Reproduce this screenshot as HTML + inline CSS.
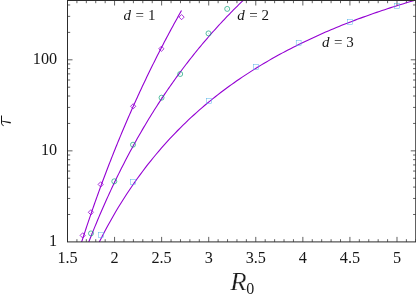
<!DOCTYPE html><html><head><meta charset="utf-8"><style>html,body{margin:0;padding:0;background:#fff}svg{display:block}</style></head><body><svg width="416" height="294" viewBox="0 0 416 294">
<rect width="416" height="294" fill="#fff"/>
<clipPath id="cp"><rect x="67.5" y="0.5" width="348.25" height="241.4"/></clipPath>
<path d="M67.50,241.9 v-5 M67.50,0.5 v5 M76.91,241.9 v-2.7 M76.91,0.5 v2.7 M86.33,241.9 v-2.7 M86.33,0.5 v2.7 M95.74,241.9 v-2.7 M95.74,0.5 v2.7 M105.16,241.9 v-2.7 M105.16,0.5 v2.7 M114.57,241.9 v-5 M114.57,0.5 v5 M123.98,241.9 v-2.7 M123.98,0.5 v2.7 M133.40,241.9 v-2.7 M133.40,0.5 v2.7 M142.81,241.9 v-2.7 M142.81,0.5 v2.7 M152.23,241.9 v-2.7 M152.23,0.5 v2.7 M161.64,241.9 v-5 M161.64,0.5 v5 M171.05,241.9 v-2.7 M171.05,0.5 v2.7 M180.47,241.9 v-2.7 M180.47,0.5 v2.7 M189.88,241.9 v-2.7 M189.88,0.5 v2.7 M199.30,241.9 v-2.7 M199.30,0.5 v2.7 M208.71,241.9 v-5 M208.71,0.5 v5 M218.12,241.9 v-2.7 M218.12,0.5 v2.7 M227.54,241.9 v-2.7 M227.54,0.5 v2.7 M236.95,241.9 v-2.7 M236.95,0.5 v2.7 M246.37,241.9 v-2.7 M246.37,0.5 v2.7 M255.78,241.9 v-5 M255.78,0.5 v5 M265.19,241.9 v-2.7 M265.19,0.5 v2.7 M274.61,241.9 v-2.7 M274.61,0.5 v2.7 M284.02,241.9 v-2.7 M284.02,0.5 v2.7 M293.44,241.9 v-2.7 M293.44,0.5 v2.7 M302.85,241.9 v-5 M302.85,0.5 v5 M312.26,241.9 v-2.7 M312.26,0.5 v2.7 M321.68,241.9 v-2.7 M321.68,0.5 v2.7 M331.09,241.9 v-2.7 M331.09,0.5 v2.7 M340.51,241.9 v-2.7 M340.51,0.5 v2.7 M349.92,241.9 v-5 M349.92,0.5 v5 M359.33,241.9 v-2.7 M359.33,0.5 v2.7 M368.75,241.9 v-2.7 M368.75,0.5 v2.7 M378.16,241.9 v-2.7 M378.16,0.5 v2.7 M387.58,241.9 v-2.7 M387.58,0.5 v2.7 M396.99,241.9 v-5 M396.99,0.5 v5 M406.40,241.9 v-2.7 M406.40,0.5 v2.7 M415.82,241.9 v-2.7 M415.82,0.5 v2.7 M67.5,214.49 h2.7 M415.75,214.49 h-2.7 M67.5,198.46 h2.7 M415.75,198.46 h-2.7 M67.5,187.08 h2.7 M415.75,187.08 h-2.7 M67.5,178.26 h2.7 M415.75,178.26 h-2.7 M67.5,171.05 h2.7 M415.75,171.05 h-2.7 M67.5,164.95 h2.7 M415.75,164.95 h-2.7 M67.5,159.67 h2.7 M415.75,159.67 h-2.7 M67.5,155.02 h2.7 M415.75,155.02 h-2.7 M67.5,150.85 h5 M415.75,150.85 h-5 M67.5,123.44 h2.7 M415.75,123.44 h-2.7 M67.5,107.41 h2.7 M415.75,107.41 h-2.7 M67.5,96.03 h2.7 M415.75,96.03 h-2.7 M67.5,87.21 h2.7 M415.75,87.21 h-2.7 M67.5,80.00 h2.7 M415.75,80.00 h-2.7 M67.5,73.90 h2.7 M415.75,73.90 h-2.7 M67.5,68.62 h2.7 M415.75,68.62 h-2.7 M67.5,63.97 h2.7 M415.75,63.97 h-2.7 M67.5,59.80 h5 M415.75,59.80 h-5 M67.5,32.39 h2.7 M415.75,32.39 h-2.7 M67.5,16.36 h2.7 M415.75,16.36 h-2.7 M67.5,4.98 h2.7 M415.75,4.98 h-2.7" stroke="#2c2c2c" stroke-width="0.75" fill="none"/>
<g clip-path="url(#cp)" fill="none">
<path d="M80.00,247.11 L80.85,244.44 L81.71,241.78 L82.56,239.13 L83.41,236.51 L84.26,233.90 L85.12,231.30 L85.97,228.73 L86.82,226.16 L87.68,223.62 L88.53,221.09 L89.38,218.57 L90.24,216.07 L91.09,213.59 L91.94,211.11 L92.79,208.66 L93.65,206.22 L94.50,203.79 L95.35,201.38 L96.21,198.98 L97.06,196.59 L97.91,194.22 L98.76,191.86 L99.62,189.52 L100.47,187.18 L101.32,184.86 L102.18,182.56 L103.03,180.27 L103.88,177.98 L104.74,175.72 L105.59,173.46 L106.44,171.22 L107.29,168.99 L108.15,166.77 L109.00,164.56 L109.85,162.36 L110.71,160.18 L111.56,158.01 L112.41,155.85 L113.26,153.70 L114.12,151.56 L114.97,149.43 L115.82,147.31 L116.68,145.21 L117.53,143.11 L118.38,141.03 L119.24,138.96 L120.09,136.89 L120.94,134.84 L121.79,132.80 L122.65,130.76 L123.50,128.74 L124.35,126.73 L125.21,124.73 L126.06,122.73 L126.91,120.75 L127.76,118.78 L128.62,116.81 L129.47,114.86 L130.32,112.91 L131.18,110.97 L132.03,109.05 L132.88,107.13 L133.74,105.22 L134.59,103.32 L135.44,101.43 L136.29,99.54 L137.15,97.67 L138.00,95.81 L138.85,93.95 L139.71,92.10 L140.56,90.26 L141.41,88.43 L142.26,86.60 L143.12,84.79 L143.97,82.98 L144.82,81.18 L145.68,79.39 L146.53,77.61 L147.38,75.83 L148.24,74.06 L149.09,72.30 L149.94,70.55 L150.79,68.81 L151.65,67.07 L152.50,65.34 L153.35,63.62 L154.21,61.90 L155.06,60.19 L155.91,58.49 L156.76,56.80 L157.62,55.11 L158.47,53.43 L159.32,51.76 L160.18,50.09 L161.03,48.44 L161.88,46.78 L162.74,45.14 L163.59,43.50 L164.44,41.87 L165.29,40.24 L166.15,38.62 L167.00,37.01 L167.85,35.41 L168.71,33.81 L169.56,32.21 L170.41,30.63 L171.26,29.05 L172.12,27.47 L172.97,25.90 L173.82,24.34 L174.68,22.79 L175.53,21.24 L176.38,19.69 L177.24,18.15 L178.09,16.62 L178.94,15.10 L179.79,13.58 L180.65,12.06 L181.50,10.55" stroke="#9400D3" stroke-width="1.1"/>
<path d="M87.00,246.60 L88.32,243.17 L89.64,239.79 L90.96,236.44 L92.28,233.13 L93.60,229.86 L94.92,226.62 L96.24,223.42 L97.55,220.26 L98.87,217.12 L100.19,214.03 L101.51,210.96 L102.83,207.93 L104.15,204.93 L105.47,201.96 L106.79,199.02 L108.11,196.11 L109.43,193.23 L110.75,190.38 L112.07,187.56 L113.39,184.77 L114.71,182.00 L116.03,179.26 L117.34,176.55 L118.66,173.87 L119.98,171.21 L121.30,168.58 L122.62,165.97 L123.94,163.39 L125.26,160.83 L126.58,158.30 L127.90,155.79 L129.22,153.30 L130.54,150.84 L131.86,148.40 L133.18,145.98 L134.50,143.58 L135.82,141.21 L137.13,138.85 L138.45,136.52 L139.77,134.21 L141.09,131.92 L142.41,129.65 L143.73,127.40 L145.05,125.17 L146.37,122.96 L147.69,120.77 L149.01,118.59 L150.33,116.44 L151.65,114.30 L152.97,112.18 L154.29,110.08 L155.61,108.00 L156.92,105.94 L158.24,103.89 L159.56,101.86 L160.88,99.85 L162.20,97.85 L163.52,95.87 L164.84,93.90 L166.16,91.96 L167.48,90.02 L168.80,88.11 L170.12,86.20 L171.44,84.32 L172.76,82.45 L174.08,80.59 L175.39,78.75 L176.71,76.92 L178.03,75.11 L179.35,73.31 L180.67,71.52 L181.99,69.75 L183.31,67.99 L184.63,66.25 L185.95,64.52 L187.27,62.80 L188.59,61.09 L189.91,59.40 L191.23,57.72 L192.55,56.06 L193.87,54.40 L195.18,52.76 L196.50,51.13 L197.82,49.51 L199.14,47.91 L200.46,46.32 L201.78,44.73 L203.10,43.16 L204.42,41.60 L205.74,40.06 L207.06,38.52 L208.38,37.00 L209.70,35.48 L211.02,33.98 L212.34,32.48 L213.66,31.00 L214.97,29.53 L216.29,28.07 L217.61,26.62 L218.93,25.18 L220.25,23.75 L221.57,22.33 L222.89,20.92 L224.21,19.51 L225.53,18.12 L226.85,16.74 L228.17,15.37 L229.49,14.01 L230.81,12.65 L232.13,11.31 L233.45,9.97 L234.76,8.65 L236.08,7.33 L237.40,6.02 L238.72,4.72 L240.04,3.43 L241.36,2.15 L242.68,0.88 L244.00,-0.39" stroke="#9400D3" stroke-width="1.1"/>
<path d="M97.00,246.58 L99.69,241.17 L102.38,235.90 L105.07,230.77 L107.76,225.78 L110.45,220.93 L113.13,216.20 L115.82,211.59 L118.51,207.09 L121.20,202.71 L123.89,198.44 L126.58,194.27 L129.27,190.20 L131.96,186.22 L134.65,182.34 L137.34,178.54 L140.03,174.84 L142.71,171.21 L145.40,167.67 L148.09,164.20 L150.78,160.81 L153.47,157.49 L156.16,154.24 L158.85,151.05 L161.54,147.94 L164.23,144.88 L166.92,141.89 L169.61,138.96 L172.29,136.08 L174.98,133.27 L177.67,130.50 L180.36,127.79 L183.05,125.13 L185.74,122.52 L188.43,119.96 L191.12,117.45 L193.81,114.98 L196.50,112.56 L199.18,110.17 L201.87,107.84 L204.56,105.54 L207.25,103.28 L209.94,101.06 L212.63,98.88 L215.32,96.74 L218.01,94.63 L220.70,92.56 L223.39,90.52 L226.08,88.52 L228.76,86.54 L231.45,84.60 L234.14,82.69 L236.83,80.81 L239.52,78.96 L242.21,77.14 L244.90,75.35 L247.59,73.59 L250.28,71.85 L252.97,70.14 L255.66,68.45 L258.34,66.79 L261.03,65.15 L263.72,63.54 L266.41,61.95 L269.10,60.39 L271.79,58.84 L274.48,57.32 L277.17,55.83 L279.86,54.35 L282.55,52.89 L285.24,51.45 L287.92,50.04 L290.61,48.64 L293.30,47.26 L295.99,45.91 L298.68,44.57 L301.37,43.24 L304.06,41.94 L306.75,40.65 L309.44,39.38 L312.13,38.13 L314.82,36.89 L317.50,35.67 L320.19,34.47 L322.88,33.28 L325.57,32.10 L328.26,30.94 L330.95,29.80 L333.64,28.67 L336.33,27.55 L339.02,26.45 L341.71,25.36 L344.39,24.29 L347.08,23.23 L349.77,22.18 L352.46,21.15 L355.15,20.12 L357.84,19.11 L360.53,18.12 L363.22,17.13 L365.91,16.16 L368.60,15.19 L371.29,14.24 L373.97,13.30 L376.66,12.37 L379.35,11.46 L382.04,10.55 L384.73,9.65 L387.42,8.77 L390.11,7.89 L392.80,7.02 L395.49,6.17 L398.18,5.32 L400.87,4.49 L403.55,3.66 L406.24,2.84 L408.93,2.03 L411.62,1.23 L414.31,0.44 L417.00,-0.34" stroke="#9400D3" stroke-width="1.1"/>
</g>
<path d="M80.10000000000001,235.4 L82.7,232.8 L85.3,235.4 L82.7,238.0 Z" stroke="#9400D3" stroke-width="0.8" fill="none"/>
<path d="M88.30000000000001,212.3 L90.9,209.70000000000002 L93.5,212.3 L90.9,214.9 Z" stroke="#9400D3" stroke-width="0.8" fill="none"/>
<path d="M98.10000000000001,184.4 L100.7,181.8 L103.3,184.4 L100.7,187.0 Z" stroke="#9400D3" stroke-width="0.8" fill="none"/>
<path d="M130.6,106.3 L133.2,103.7 L135.79999999999998,106.3 L133.2,108.89999999999999 Z" stroke="#9400D3" stroke-width="0.8" fill="none"/>
<path d="M158.8,48.75 L161.4,46.15 L164.0,48.75 L161.4,51.35 Z" stroke="#9400D3" stroke-width="0.8" fill="none"/>
<path d="M179.0,17.1 L181.6,14.500000000000002 L184.2,17.1 L181.6,19.700000000000003 Z" stroke="#9400D3" stroke-width="0.8" fill="none"/>
<circle cx="91.0" cy="233.4" r="2.5" stroke="#009E73" stroke-width="0.65" fill="none"/>
<circle cx="114.3" cy="181.3" r="2.5" stroke="#009E73" stroke-width="0.65" fill="none"/>
<circle cx="133.0" cy="144.7" r="2.5" stroke="#009E73" stroke-width="0.65" fill="none"/>
<circle cx="161.55" cy="97.7" r="2.5" stroke="#009E73" stroke-width="0.65" fill="none"/>
<circle cx="180.2" cy="74.0" r="2.5" stroke="#009E73" stroke-width="0.65" fill="none"/>
<circle cx="208.5" cy="33.4" r="2.5" stroke="#009E73" stroke-width="0.65" fill="none"/>
<circle cx="227.2" cy="8.9" r="2.5" stroke="#009E73" stroke-width="0.65" fill="none"/>
<rect x="98.55" y="232.55" width="4.9" height="4.9" stroke="#56B4E9" stroke-width="0.5" fill="none"/>
<rect x="130.55" y="179.65" width="4.9" height="4.9" stroke="#56B4E9" stroke-width="0.5" fill="none"/>
<rect x="206.45000000000002" y="98.35" width="4.9" height="4.9" stroke="#56B4E9" stroke-width="0.5" fill="none"/>
<rect x="253.55" y="64.35" width="4.9" height="4.9" stroke="#56B4E9" stroke-width="0.5" fill="none"/>
<rect x="296.2" y="40.3" width="4.9" height="4.9" stroke="#56B4E9" stroke-width="0.5" fill="none"/>
<rect x="347.55" y="19.35" width="4.9" height="4.9" stroke="#56B4E9" stroke-width="0.5" fill="none"/>
<rect x="394.55" y="3.3499999999999996" width="4.9" height="4.9" stroke="#56B4E9" stroke-width="0.5" fill="none"/>
<circle cx="91.0" cy="233.4" r="0.35" fill="#009E73" opacity="0.7"/>
<circle cx="114.3" cy="181.3" r="0.35" fill="#009E73" opacity="0.7"/>
<circle cx="133.0" cy="144.7" r="0.35" fill="#009E73" opacity="0.7"/>
<circle cx="161.55" cy="97.7" r="0.35" fill="#009E73" opacity="0.7"/>
<circle cx="180.2" cy="74.0" r="0.35" fill="#009E73" opacity="0.7"/>
<circle cx="208.5" cy="33.4" r="0.35" fill="#009E73" opacity="0.7"/>
<circle cx="227.2" cy="8.9" r="0.35" fill="#009E73" opacity="0.7"/>
<circle cx="101.0" cy="235.0" r="0.35" fill="#56B4E9" opacity="0.7"/>
<circle cx="133.0" cy="182.1" r="0.35" fill="#56B4E9" opacity="0.7"/>
<circle cx="208.9" cy="100.8" r="0.35" fill="#56B4E9" opacity="0.7"/>
<circle cx="256.0" cy="66.8" r="0.35" fill="#56B4E9" opacity="0.7"/>
<circle cx="298.65" cy="42.75" r="0.35" fill="#56B4E9" opacity="0.7"/>
<circle cx="350.0" cy="21.8" r="0.35" fill="#56B4E9" opacity="0.7"/>
<circle cx="397.0" cy="5.8" r="0.35" fill="#56B4E9" opacity="0.7"/>
<rect x="67.5" y="0.5" width="348.25" height="241.4" fill="none" stroke="#2c2c2c" stroke-width="1"/>
<g font-family="'Liberation Serif', serif" font-size="15" fill="#161616" style="filter:opacity(1)">
<text x="67.5" y="262.7" text-anchor="middle" font-size="16.2">1.5</text>
<text x="114.6" y="262.7" text-anchor="middle" font-size="16.2">2</text>
<text x="161.6" y="262.7" text-anchor="middle" font-size="16.2">2.5</text>
<text x="208.7" y="262.7" text-anchor="middle" font-size="16.2">3</text>
<text x="255.8" y="262.7" text-anchor="middle" font-size="16.2">3.5</text>
<text x="302.9" y="262.7" text-anchor="middle" font-size="16.2">4</text>
<text x="349.9" y="262.7" text-anchor="middle" font-size="16.2">4.5</text>
<text x="397.0" y="262.7" text-anchor="middle" font-size="16.2">5</text>
<text x="57.1" y="245.7" text-anchor="end" font-size="16.2">1</text>
<text x="57.1" y="154.7" text-anchor="end" font-size="16.2">10</text>
<text x="57.1" y="63.6" text-anchor="end" font-size="16.2">100</text>
<text y="19.9"><tspan x="123.6" font-style="italic">d</tspan> <tspan x="135.6">=</tspan> <tspan x="147.9">1</tspan></text>
<text y="19.7"><tspan x="237.3" font-style="italic">d</tspan> <tspan x="249.3">=</tspan> <tspan x="261.6">2</tspan></text>
<text y="47"><tspan x="322" font-style="italic">d</tspan> <tspan x="334.0">=</tspan> <tspan x="346.3">3</tspan></text>
</g>
<g font-family="'Liberation Serif', serif" fill="#1c1c1c" style="filter:opacity(1)">
<text transform="translate(230.2,289.8) scale(1.10,1)" font-size="24.4" stroke="#fff" stroke-width="0.25" font-style="italic">R</text>
<text x="246.2" y="293.8" font-size="16">0</text>
</g>
<path d="M1.5,115.9 L1.5,123.2 Q1.6,125.0 3.3,125.6" stroke="#111" stroke-width="1.0" fill="none" stroke-linecap="round"/>
<path d="M1.9,120.7 L10.7,122.1 Q11.2,122.9 10.5,123.5 L1.9,121.5 Z" fill="#111"/>
</svg></body></html>
